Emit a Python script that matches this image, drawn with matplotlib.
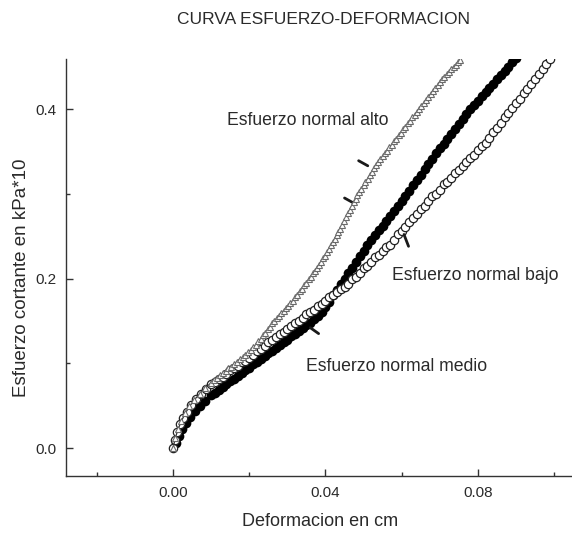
import matplotlib
matplotlib.use('Agg')
import matplotlib.pyplot as plt
from matplotlib.ticker import MultipleLocator

plt.rcParams['font.family'] = ['Liberation Sans', 'DejaVu Sans']

# Esfuerzo normal bajo (circulos abiertos)
bajo_x = [0.0000, 0.0005, 0.0010, 0.0018, 0.0027, 0.0037, 0.0048, 0.0060, 0.0073, 0.0087, 0.0100,
          0.011, 0.012, 0.013, 0.014, 0.015, 0.016, 0.017, 0.018, 0.019, 0.020,
          0.021, 0.022, 0.023, 0.024, 0.025, 0.026, 0.027, 0.028, 0.029, 0.030,
          0.031, 0.032, 0.033, 0.034, 0.035, 0.036, 0.037, 0.038, 0.039, 0.040,
          0.041, 0.042, 0.043, 0.044, 0.045, 0.046, 0.047, 0.048, 0.049, 0.050,
          0.051, 0.052, 0.053, 0.054, 0.055, 0.056, 0.057, 0.058, 0.059, 0.060,
          0.061, 0.062, 0.063, 0.064, 0.065, 0.066, 0.067, 0.068, 0.069, 0.070,
          0.071, 0.072, 0.073, 0.074, 0.075, 0.076, 0.077, 0.078, 0.079, 0.080,
          0.081, 0.082, 0.083, 0.084, 0.085, 0.086, 0.087, 0.088, 0.089, 0.090,
          0.091, 0.092, 0.093, 0.094, 0.095, 0.096, 0.097, 0.098, 0.099]
bajo_y = [0.000, 0.010, 0.019, 0.028, 0.036, 0.043, 0.051, 0.058, 0.064, 0.070, 0.075,
          0.078, 0.082, 0.084, 0.087, 0.092, 0.094, 0.097, 0.101, 0.103, 0.106,
          0.110, 0.114, 0.117, 0.120, 0.125, 0.127, 0.131, 0.135, 0.137, 0.141,
          0.144, 0.148, 0.150, 0.154, 0.158, 0.160, 0.163, 0.168, 0.170, 0.173,
          0.178, 0.180, 0.184, 0.188, 0.190, 0.194, 0.199, 0.202, 0.206, 0.212,
          0.215, 0.219, 0.225, 0.228, 0.232, 0.237, 0.240, 0.246, 0.252, 0.256,
          0.261, 0.267, 0.271, 0.276, 0.282, 0.286, 0.291, 0.297, 0.300, 0.305,
          0.311, 0.314, 0.319, 0.324, 0.328, 0.333, 0.338, 0.342, 0.346, 0.352,
          0.356, 0.360, 0.366, 0.373, 0.378, 0.383, 0.390, 0.395, 0.401, 0.407,
          0.412, 0.419, 0.424, 0.430, 0.436, 0.441, 0.447, 0.453, 0.459]

# Esfuerzo normal medio (circulos negros)
medio_x = [0.0008, 0.0015, 0.0024, 0.0034, 0.0045, 0.0057, 0.0070, 0.0084,
           0.010, 0.011, 0.012, 0.013, 0.014, 0.015, 0.016, 0.017, 0.018, 0.019,
           0.020, 0.021, 0.022, 0.023, 0.024, 0.025, 0.026, 0.027, 0.028, 0.029,
           0.030, 0.031, 0.032, 0.033, 0.034, 0.035, 0.036, 0.037, 0.038, 0.039,
           0.040, 0.041, 0.042, 0.043, 0.044, 0.045, 0.046, 0.047, 0.048, 0.049,
           0.050, 0.051, 0.052, 0.053, 0.054, 0.055, 0.056, 0.057, 0.058, 0.059,
           0.060, 0.061, 0.062, 0.063, 0.064, 0.065, 0.066, 0.067, 0.068, 0.069,
           0.070, 0.071, 0.072, 0.073, 0.074, 0.075, 0.076, 0.077, 0.078, 0.079,
           0.080, 0.081, 0.082, 0.083, 0.084, 0.085, 0.086, 0.087, 0.088, 0.089, 0.090]
medio_y = [0.006, 0.014, 0.022, 0.030, 0.037, 0.044, 0.050, 0.056,
           0.062, 0.065, 0.069, 0.072, 0.075, 0.079, 0.082, 0.085, 0.088, 0.092,
           0.095, 0.099, 0.102, 0.105, 0.108, 0.112, 0.115, 0.118, 0.122, 0.125,
           0.128, 0.132, 0.135, 0.138, 0.142, 0.145, 0.148, 0.152, 0.156, 0.160,
           0.166, 0.172, 0.180, 0.186, 0.193, 0.200, 0.207, 0.213, 0.220, 0.226,
           0.233, 0.239, 0.245, 0.251, 0.257, 0.262, 0.268, 0.274, 0.280, 0.286,
           0.291, 0.297, 0.303, 0.310, 0.316, 0.322, 0.329, 0.335, 0.341, 0.348,
           0.354, 0.359, 0.365, 0.371, 0.377, 0.382, 0.388, 0.394, 0.400, 0.405,
           0.410, 0.415, 0.420, 0.425, 0.430, 0.435, 0.440, 0.445, 0.450, 0.455, 0.460]

# Esfuerzo normal alto (triangulos abiertos)
alto_x = [0.0000, 0.0006, 0.0013, 0.0022, 0.0032, 0.0043, 0.0056, 0.0070, 0.0085,
          0.0100, 0.0108, 0.0115, 0.0123, 0.0130, 0.0138, 0.0145, 0.0153, 0.0160, 0.0168,
          0.0175, 0.0183, 0.0190, 0.0197, 0.0204, 0.0211, 0.0217, 0.0224, 0.0230, 0.0236,
          0.0242, 0.0248, 0.0254, 0.0260, 0.0266, 0.0272, 0.0278, 0.0284, 0.0290, 0.0296,
          0.0302, 0.0308, 0.0314, 0.0320, 0.0326, 0.0332, 0.0338, 0.0344, 0.0350, 0.0356,
          0.0361, 0.0367, 0.0372, 0.0378, 0.0383, 0.0389, 0.0394, 0.0399, 0.0404, 0.0409,
          0.0414, 0.0419, 0.0424, 0.0429, 0.0434, 0.0439, 0.0444, 0.0449, 0.0454, 0.0459,
          0.0464, 0.0469, 0.0474, 0.0479, 0.0484, 0.0489, 0.0494, 0.0500, 0.0505, 0.0511,
          0.0516, 0.0522, 0.0527, 0.0533, 0.0538, 0.0544, 0.0550, 0.0556, 0.0562, 0.0568,
          0.0574, 0.0580, 0.0586, 0.0592, 0.0598, 0.0604, 0.0610, 0.0616, 0.0622, 0.0628,
          0.0634, 0.0640, 0.0646, 0.0652, 0.0658, 0.0664, 0.0670, 0.0676, 0.0682, 0.0688,
          0.0694, 0.0700, 0.0706, 0.0712, 0.0718, 0.0724, 0.0730, 0.0736, 0.0742, 0.0748, 0.0754]
alto_y = [0.000, 0.012, 0.022, 0.032, 0.041, 0.049, 0.057, 0.064, 0.071,
          0.077, 0.080, 0.083, 0.086, 0.088, 0.091, 0.094, 0.096, 0.099, 0.102,
          0.105, 0.107, 0.110, 0.113, 0.116, 0.119, 0.122, 0.126, 0.129, 0.133,
          0.136, 0.140, 0.143, 0.147, 0.150, 0.153, 0.156, 0.159, 0.162, 0.165,
          0.168, 0.171, 0.174, 0.178, 0.181, 0.185, 0.188, 0.192, 0.195, 0.199,
          0.202, 0.206, 0.209, 0.213, 0.216, 0.220, 0.224, 0.227, 0.231, 0.235,
          0.239, 0.243, 0.247, 0.251, 0.255, 0.259, 0.263, 0.268, 0.272, 0.277,
          0.281, 0.286, 0.290, 0.294, 0.298, 0.302, 0.306, 0.310, 0.314, 0.318,
          0.322, 0.326, 0.330, 0.334, 0.337, 0.341, 0.344, 0.348, 0.351, 0.355,
          0.358, 0.362, 0.365, 0.369, 0.372, 0.376, 0.379, 0.383, 0.386, 0.390,
          0.393, 0.397, 0.400, 0.404, 0.407, 0.411, 0.414, 0.418, 0.421, 0.425,
          0.428, 0.432, 0.435, 0.438, 0.441, 0.444, 0.447, 0.450, 0.452, 0.455, 0.458]

fig = plt.figure(figsize=(5.72, 5.35), dpi=100)
ax = fig.add_axes([0.1154, 0.1103, 0.8846, 0.7794])

txt = '#2a2a2a'

ax.plot(medio_x, medio_y, 'o', color='black', ms=7, mew=0, zorder=2)
ax.plot(bajo_x, bajo_y, 'o', mfc='white', mec='#222222', ms=6, mew=0.9, zorder=3)
ax.plot(alto_x, alto_y, '-', color='#333333', lw=0.9, zorder=4)
ax.plot(alto_x, alto_y, '^', mfc='white', mec='#6a6a6a', ms=4.5, mew=0.8, zorder=5)

ax.set_xlim(-0.0281, 0.1047)
ax.set_ylim(-0.033, 0.459)

ax.spines['top'].set_visible(False)
ax.spines['right'].set_visible(False)
for s in ['left', 'bottom']:
    ax.spines[s].set_color('#333333')
    ax.spines[s].set_linewidth(1.0)

ax.xaxis.set_major_locator(MultipleLocator(0.04))
ax.xaxis.set_minor_locator(MultipleLocator(0.02))
ax.yaxis.set_major_locator(MultipleLocator(0.2))
ax.yaxis.set_minor_locator(MultipleLocator(0.1))
ax.tick_params(which='both', direction='in', colors='#333333', labelcolor=txt, labelsize=11)
ax.tick_params(which='major', length=5, width=1)
ax.tick_params(which='minor', length=3, width=1)
ax.tick_params(axis='x', pad=7)
ax.tick_params(axis='y', pad=7)
ax.set_xticks([0.0, 0.04, 0.08])
ax.set_xticklabels(['0.00', '0.04', '0.08'])
ax.set_yticks([0.0, 0.2, 0.4])
ax.set_yticklabels(['0.0', '0.2', '0.4'])

fig.text(0.565, 1 - 20 / 535, 'CURVA ESFUERZO-DEFORMACION', ha='center', va='center',
         fontsize=12.5, color=txt)
fig.text(0.56, 1 - 522 / 535, 'Deformacion en cm', ha='center', va='center',
         fontsize=13, color=txt)
fig.text(22 / 572, 1 - 278 / 535, 'Esfuerzo cortante en kPa*10', ha='center', va='center',
         rotation=90, fontsize=13.5, color=txt)

ax.text(0.0142, 0.387, 'Esfuerzo normal alto', ha='left', va='center', fontsize=12.7, color=txt)
ax.text(0.0574, 0.204, 'Esfuerzo normal bajo', ha='left', va='center', fontsize=12.7, color=txt)
ax.text(0.0824, 0.0956, 'Esfuerzo normal medio', ha='right', va='center', fontsize=12.7, color=txt)

# marcas de señalamiento
leaders = [((0.0474, 0.289), (0.0450, 0.295)),
           ((0.0511, 0.333), (0.0487, 0.339)),
           ((0.0618, 0.238), (0.0606, 0.252)),
           ((0.0382, 0.135), (0.0360, 0.142))]
for p, q in leaders:
    ax.annotate('', xy=p, xytext=q,
                arrowprops=dict(arrowstyle='-', color='#1a1a1a', lw=2.0,
                                shrinkA=0, shrinkB=0))

fig.savefig('out.png', dpi=100)
